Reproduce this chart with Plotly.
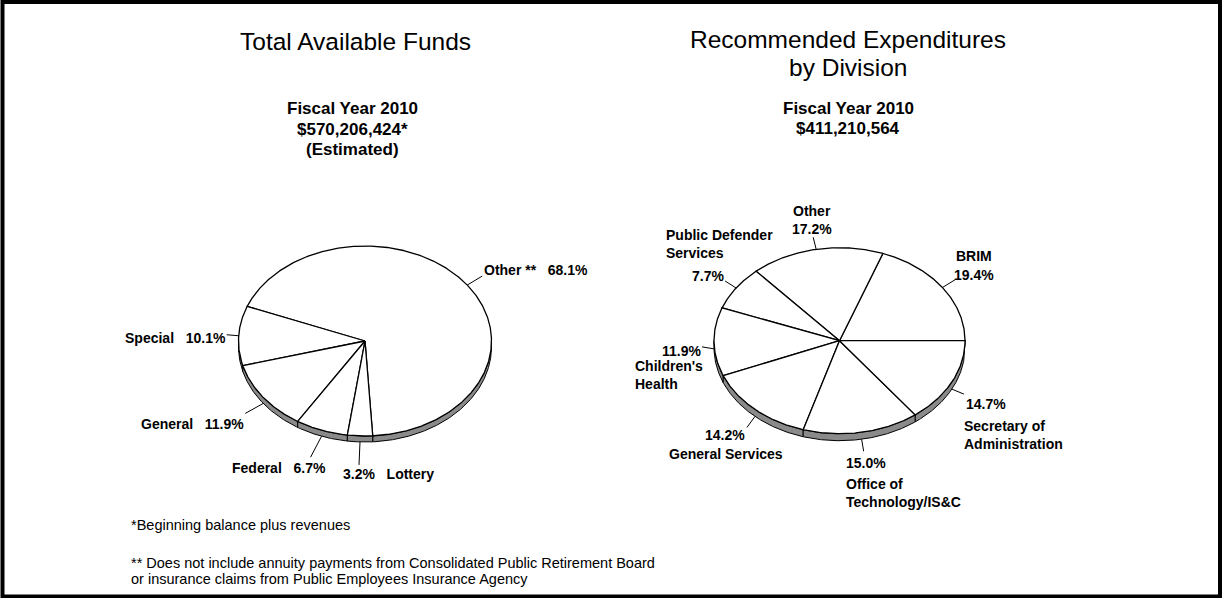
import numpy as np
import plotly.graph_objects as go

# ---------------- data ----------------
funds_labels = ["Other **", "Special", "General", "Federal", "Lottery"]
funds_values = [68.1, 10.1, 11.9, 6.7, 3.2]

exp_labels = ["BRIM", "Other", "Public Defender\nServices", "Children's\nHealth",
              "General Services", "Office of\nTechnology/IS&C", "Secretary of\nAdministration"]
exp_values = [19.4, 17.2, 7.7, 11.9, 14.2, 15.0, 14.7]

funds_title = ["Total Available Funds"]
funds_subtitle = ["Fiscal Year 2010", "$570,206,424*", "(Estimated)"]
exp_title = ["Recommended Expenditures", "by Division"]
exp_subtitle = ["Fiscal Year 2010", "$411,210,564"]
footnotes = ["*Beginning balance plus revenues",
             "** Does not include annuity payments from Consolidated Public Retirement Board",
             "or insurance claims from Public Employees Insurance Agency"]

# ---------------- layout / style ----------------
W, H = 1222, 598
FONT = "Liberation Sans, Arial, Helvetica, sans-serif"
LEFT_PIE = dict(cx=365, cy=341, rx=126.5, ry=95, depth=6, start=-86.5)
RIGHT_PIE = dict(cx=839.5, cy=340.7, rx=125.5, ry=93, depth=7, start=0.0)
BAND_COLOR = "#8a8a8a"
EDGE = dict(color="black", width=1.3)

# left labels: leader offset, text offset, anchor, percentage first?
LEFT_STYLE = [
    dict(lead=(15, -9), off=(1, -6), xa="left", pct_first=False),
    dict(lead=(-12, -1), off=(0, 3), xa="right", pct_first=False),
    dict(lead=(-18, 10), off=(0, 11), xa="right", pct_first=False),
    dict(lead=(-11, 21), off=(16, 11), xa="right", pct_first=False),
    dict(lead=(-1, 23), off=(-17, 9), xa="left", pct_first=True),
]
# right labels: leader offset, pct offset/anchor, name offset/anchor
RIGHT_STYLE = [
    dict(lead=(13, -8), pct=(18.5, -5, "center"), name=(18.5, -24, "center")),
    dict(lead=(-3, -12), pct=(-1, -8, "center"), name=(-1, -26, "center")),
    dict(lead=(-11, -7), pct=(0, -5, "right"), name=(-60, -36.5, "left")),
    dict(lead=(-12, -2), pct=(0, 4, "right"), name=(-68, 28.5, "left")),
    dict(lead=(-8, 11), pct=(-21.5, 8, "center"), name=(-21, 27, "center")),
    dict(lead=(2, 12), pct=(-19, 12, "left"), name=(-19, 42, "left")),
    dict(lead=(12, 5), pct=(1, 10, "left"), name=(-1, 40.5, "left")),
]


def ell(p, t_deg, down=False):
    t = np.radians(np.asarray(t_deg, dtype=float))
    x = p["cx"] + p["rx"] * np.cos(t)
    y = p["cy"] - p["ry"] * np.sin(t) + (p["depth"] if down else 0)
    return x, y


def build_pie(p, labels, values):
    total = float(sum(values))
    slices = []
    t = p["start"]
    for lab, v in zip(labels, values):
        span = v / total * 360.0
        slices.append((lab, v, t, t + span))
        t += span
    traces = []
    # side band (3-D edge), visible on lower half
    for lab, v, t1, t2 in slices:
        for k in (-1, 0, 1):
            lo, hi = 180 + 360 * k, 360 + 360 * k
            a, b = max(t1, lo), min(t2, hi)
            if b > a:
                tt = np.linspace(a, b, int(b - a) * 2 + 2)
                xt, yt = ell(p, tt)
                xb, yb = ell(p, tt[::-1], down=True)
                xs = np.concatenate([xt, xb, xt[:1]])
                ys = np.concatenate([yt, yb, yt[:1]])
                traces.append(go.Scatter(x=xs, y=ys, mode="lines", fill="toself",
                                         fillcolor=BAND_COLOR, line=dict(color="black", width=1),
                                         hoverinfo="skip", showlegend=False))
    # top faces
    for lab, v, t1, t2 in slices:
        tt = np.linspace(t1, t2, int(t2 - t1) * 2 + 2)
        xs, ys = ell(p, tt)
        xs = np.concatenate([[p["cx"]], xs, [p["cx"]]])
        ys = np.concatenate([[p["cy"]], ys, [p["cy"]]])
        name = lab.replace("\n", " ")
        traces.append(go.Scatter(x=xs, y=ys, mode="lines", fill="toself", fillcolor="white",
                                 line=EDGE, name=name, hoveron="fills",
                                 hoverinfo="text", text=f"{name}: {v:.1f}%", showlegend=False))
    return slices, traces


def leader(p, t1, t2, lead):
    mid = (t1 + t2) / 2.0
    down = np.sin(np.radians(mid)) < 0
    sx, sy = ell(p, mid, down=down)
    sx, sy = float(sx), float(sy)
    return (sx, sy), (sx + lead[0], sy + lead[1])


fig = go.Figure()
annotations = []
lead_x, lead_y = [], []

LBL_FONT = dict(family=FONT, size=14, color="black", weight="bold")
SEP = "\u00a0\u00a0\u00a0"

# ----- left pie -----
slices, traces = build_pie(LEFT_PIE, funds_labels, funds_values)
for tr in traces:
    fig.add_trace(tr)
for (lab, v, t1, t2), st in zip(slices, LEFT_STYLE):
    (sx, sy), (ex, ey) = leader(LEFT_PIE, t1, t2, st["lead"])
    lead_x += [sx, ex, None]
    lead_y += [sy, ey, None]
    pct = f"{v:.1f}%"
    txt = pct + SEP + lab if st["pct_first"] else lab + SEP + pct
    annotations.append(dict(x=ex + st["off"][0], y=ey + st["off"][1], xref="x", yref="y",
                            text=txt, showarrow=False, xanchor=st["xa"], yanchor="middle",
                            font=LBL_FONT, borderpad=0))

# ----- right pie -----
slices, traces = build_pie(RIGHT_PIE, exp_labels, exp_values)
for tr in traces:
    fig.add_trace(tr)
for (lab, v, t1, t2), st in zip(slices, RIGHT_STYLE):
    (sx, sy), (ex, ey) = leader(RIGHT_PIE, t1, t2, st["lead"])
    lead_x += [sx, ex, None]
    lead_y += [sy, ey, None]
    pdx, pdy, pa = st["pct"]
    ndx, ndy, na = st["name"]
    annotations.append(dict(x=ex + pdx, y=ey + pdy, xref="x", yref="y", text=f"{v:.1f}%",
                            showarrow=False, xanchor=pa, yanchor="middle", font=LBL_FONT,
                            borderpad=0))
    annotations.append(dict(x=ex + ndx, y=ey + ndy, xref="x", yref="y",
                            text=lab.replace("\n", "<br>"), align=na,
                            showarrow=False, xanchor=na, yanchor="middle", font=LBL_FONT,
                            borderpad=0))

fig.add_trace(go.Scatter(x=lead_x, y=lead_y, mode="lines", line=dict(color="black", width=1),
                         hoverinfo="skip", showlegend=False))

# ----- titles -----
TITLE_FONT = dict(family=FONT, size=24.5, color="black")
SUB_FONT = dict(family=FONT, size=17, color="black", weight="bold")
NOTE_FONT = dict(family=FONT, size=14.5, color="black")

for txt, (x, y) in zip(funds_title, [(355, 41)]):
    annotations.append(dict(x=x, y=y, xref="x", yref="y", text=txt, showarrow=False,
                            xanchor="center", yanchor="middle", font=TITLE_FONT))
for txt, (x, y) in zip(exp_title, [(848, 39), (848, 67)]):
    annotations.append(dict(x=x, y=y, xref="x", yref="y", text=txt, showarrow=False,
                            xanchor="center", yanchor="middle", font=TITLE_FONT))
for txt, (x, y) in zip(funds_subtitle, [(352, 108.5), (352, 129), (352, 149.5)]):
    annotations.append(dict(x=x, y=y, xref="x", yref="y", text=txt, showarrow=False,
                            xanchor="center", yanchor="middle", font=SUB_FONT))
for txt, (x, y) in zip(exp_subtitle, [(848, 108.5), (848, 128.5)]):
    annotations.append(dict(x=x, y=y, xref="x", yref="y", text=txt, showarrow=False,
                            xanchor="center", yanchor="middle", font=SUB_FONT))
for txt, (x, y) in zip(footnotes, [(130, 525), (130, 563), (130, 579)]):
    annotations.append(dict(x=x, y=y, xref="x", yref="y", text=txt, showarrow=False,
                            xanchor="left", yanchor="middle", font=NOTE_FONT, borderpad=0))

fig.update_layout(
    width=W, height=H,
    margin=dict(l=0, r=0, t=0, b=0, pad=0),
    paper_bgcolor="white", plot_bgcolor="white",
    showlegend=False,
    xaxis=dict(range=[0, W], visible=False, fixedrange=True),
    yaxis=dict(range=[H, 0], visible=False, fixedrange=True),
    annotations=annotations,
    shapes=[dict(type="rect", xref="x", yref="y", x0=2.5, x1=1220, y0=2, y1=596.5,
                 line=dict(color="black", width=4), fillcolor="rgba(0,0,0,0)")],
    hovermode="closest",
)

fig.write_html("out.html",
               config={"displayModeBar": False},
               post_script="document.body.style.margin='0';document.body.style.overflow='hidden';")
